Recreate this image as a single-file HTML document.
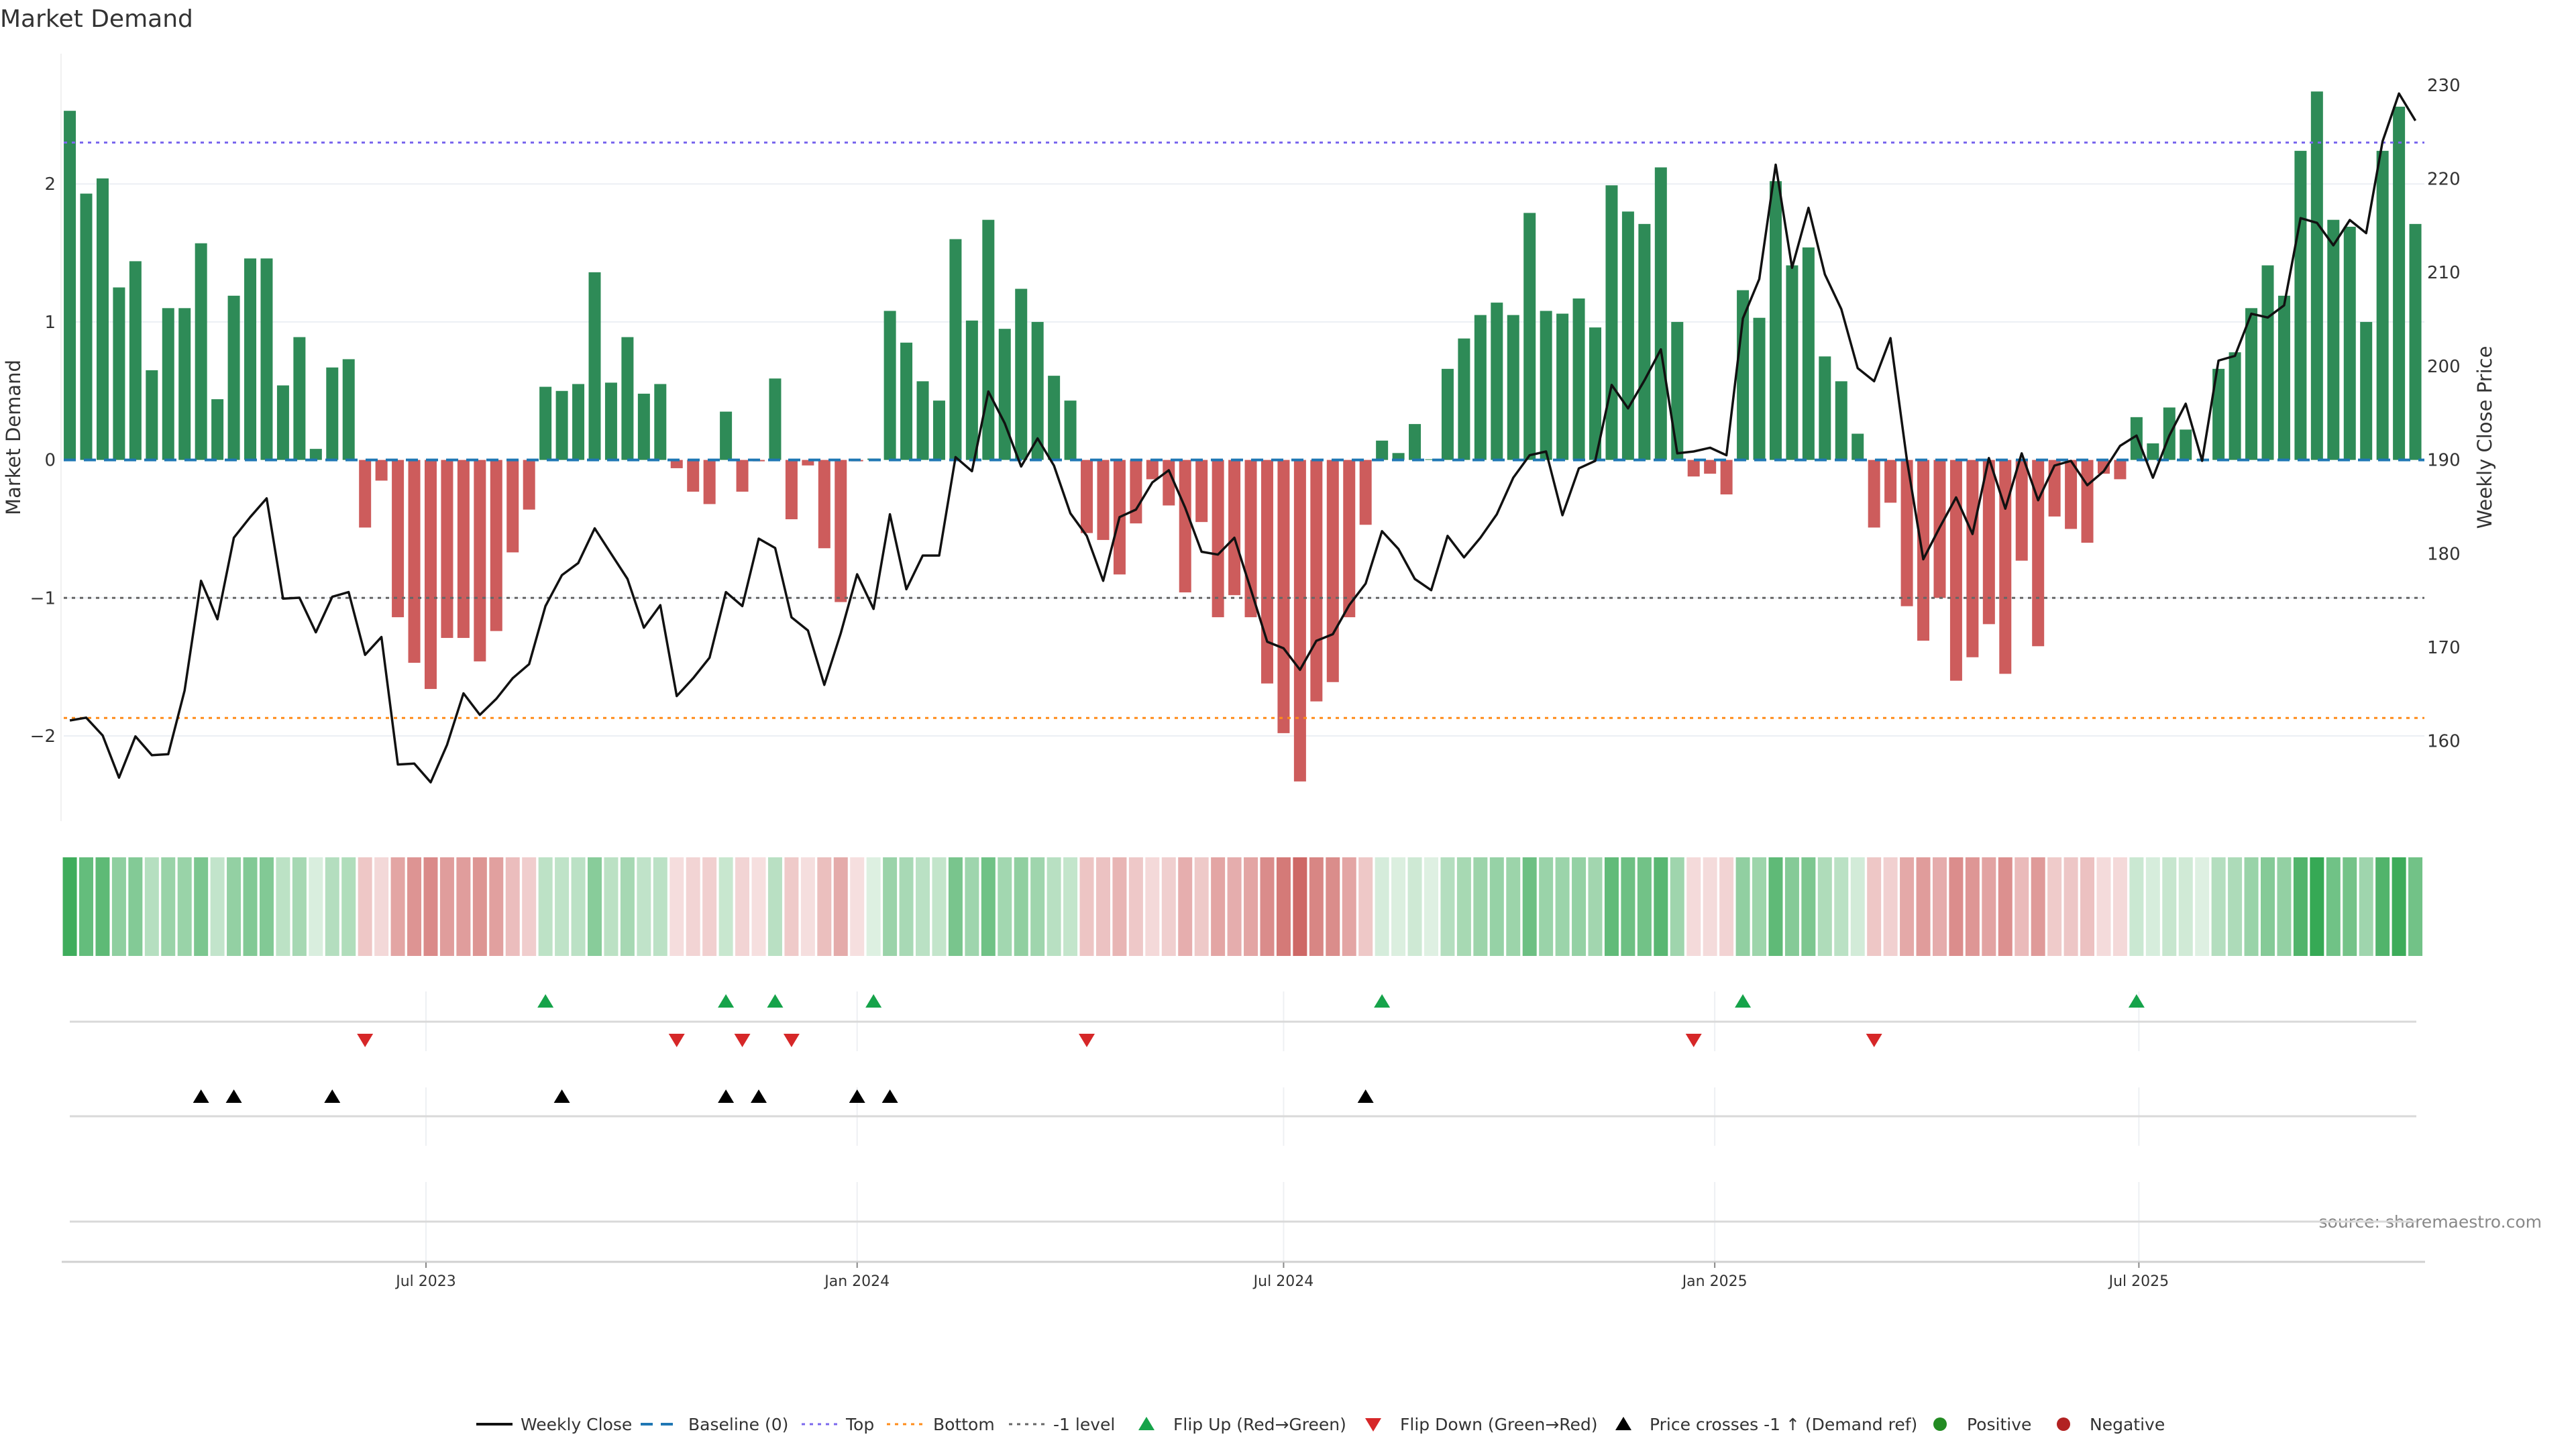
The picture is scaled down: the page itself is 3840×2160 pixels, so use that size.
<!DOCTYPE html>
<html><head><meta charset="utf-8"><title>Market Demand</title>
<style>
html,body{margin:0;padding:0;background:#fff;}
svg{display:block;font-family:"DejaVu Sans","Liberation Sans",sans-serif;}
</style></head>
<body>
<svg id="chart" width="3840" height="2160" viewBox="0 0 3840 2160" xmlns="http://www.w3.org/2000/svg">
<rect width="3840" height="2160" fill="#fff"/>
<text x="0" y="40" font-size="36" fill="#333">Market Demand</text>
<text transform="translate(30,652) rotate(-90)" text-anchor="middle" font-size="29" fill="#333">Market Demand</text>
<text transform="translate(3714,652) rotate(-90)" text-anchor="middle" font-size="29" fill="#333">Weekly Close Price</text>
<text x="3789" y="1830" text-anchor="end" font-size="25" fill="#888">source: sharemaestro.com</text>
<g id="grid"></g>
<g id="heat"></g>
<g id="bars"></g>
<g id="refs"></g>
<g id="line"></g>
<g id="axes"></g>
<g id="events"></g>
<g id="legend"></g>
</svg>
<script>
const startDate = "2023-01-30";
const demand = [2.53,1.93,2.04,1.25,1.44,0.65,1.10,1.10,1.57,0.44,1.19,1.46,1.46,0.54,0.89,0.08,0.67,0.73,-0.49,-0.15,
-1.14,-1.47,-1.66,-1.29,-1.29,-1.46,-1.24,-0.67,-0.36,0.53,0.50,0.55,1.36,0.56,0.89,0.48,0.55,-0.06,-0.23,-0.32,
0.35,-0.23,-0.01,0.59,-0.43,-0.04,-0.64,-1.03,-0.01,0.01,1.08,0.85,0.57,0.43,1.60,1.01,1.74,0.95,1.24,1.00,
0.61,0.43,-0.53,-0.58,-0.83,-0.46,-0.14,-0.33,-0.96,-0.45,-1.14,-0.98,-1.14,-1.62,-1.98,-2.33,-1.75,-1.61,-1.14,-0.47,
0.14,0.05,0.26,0.005,0.66,0.88,1.05,1.14,1.05,1.79,1.08,1.06,1.17,0.96,1.99,1.80,1.71,2.12,1.00,-0.12,
-0.10,-0.25,1.23,1.03,2.02,1.41,1.54,0.75,0.57,0.19,-0.49,-0.31,-1.06,-1.31,-1.00,-1.60,-1.43,-1.19,-1.55,-0.73,
-1.35,-0.41,-0.50,-0.60,-0.10,-0.14,0.31,0.12,0.38,0.22,0.005,0.66,0.78,1.10,1.41,1.19,2.24,2.67,1.74,1.69,
1.00,2.24,2.56,1.71];
const price = [162.2,162.5,160.6,156.1,160.5,158.5,158.6,165.4,177.1,173.0,181.7,183.9,185.9,175.2,175.3,171.6,175.4,175.9,169.2,171.1,
157.5,157.6,155.6,159.6,165.1,162.8,164.5,166.7,168.2,174.4,177.7,179.0,182.7,180.0,177.3,172.1,174.5,164.8,166.7,168.9,
175.9,174.4,181.6,180.6,173.2,171.8,166.0,171.5,177.8,174.1,184.2,176.2,179.8,179.8,190.3,188.8,197.3,193.9,189.3,192.3,
189.4,184.3,181.9,177.1,183.9,184.7,187.6,188.9,184.9,180.2,179.9,181.7,176.2,170.6,169.9,167.6,170.7,171.4,174.5,176.8,
182.4,180.5,177.3,176.1,181.9,179.6,181.7,184.2,188.1,190.5,190.9,184.1,189.1,189.9,198.0,195.5,198.5,201.8,190.7,190.9,
191.3,190.5,205.1,209.3,221.5,210.5,216.9,209.8,206.1,199.8,198.4,203.0,190.0,179.4,182.8,186.0,182.1,190.2,184.8,190.7,
185.7,189.4,189.9,187.3,188.8,191.5,192.6,188.1,192.6,196.0,189.9,200.6,201.1,205.6,205.2,206.5,215.8,215.3,212.9,215.6,
214.2,224.0,229.1,226.2];
const flipUp = [29,40,43,49,80,102,126];
const flipDown = [18,37,41,44,62,99,110];
const crosses = [8,10,16,30,40,42,48,50,79];
const demandTicks = [-2,-1,0,1,2];
const demandTickLabels = ["\u22122","\u22121","0","1","2"];
const priceTicks = [160,170,180,190,200,210,220,230];
const xTickDates = ["2023-07-01","2024-01-01","2024-07-01","2025-01-01","2025-07-01"];
const xTickLabels = ["Jul 2023","Jan 2024","Jul 2024","Jan 2025","Jul 2025"];
const topLevel = 2.30, bottomLevel = -1.87, minusOneLevel = -1;

const NS = "http://www.w3.org/2000/svg";
const DAY = 86400000;
const ref0 = Date.parse("2023-07-01T00:00:00Z");
function xDate(s){ return 635 + (Date.parse(s+"T00:00:00Z")-ref0)/DAY*3.493; }
const x0 = xDate(startDate);
function xi(i){ return x0 + i*7*3.493; }
function yD(v){ return 685.6 - v*205.7; }
function yP(p){ return 685.6 - (p-190)*13.97; }
function mk(tag, attrs, parent){ const e=document.createElementNS(NS,tag); for(const k in attrs) e.setAttribute(k,attrs[k]); parent.appendChild(e); return e; }
const X_L = 95, X_R = 3614;

// gridlines
const grid = document.getElementById('grid');
demandTicks.forEach(v=>{ if(v!==0){ const g=mk('line',{x1:X_L,x2:X_R,y1:yD(v),y2:yD(v),stroke:'#eceff4','stroke-width':2},grid);

 }});
const spine = mk('line',{x1:91,x2:91,y1:80,y2:1224,stroke:'#f0f0f0','stroke-width':2},grid);


xTickDates.forEach(d=>{ const x=xDate(d);
 [[1478,1523],[1523,1567],[1621,1708],[1762,1882]].forEach(r=>{ const g=mk('line',{x1:x,x2:x,y1:r[0],y2:r[1],stroke:'#eef0f3','stroke-width':2},grid);
 
  });
});
[1523,1664,1821].forEach(y=>{ const g=mk('line',{x1:104,x2:3602,y1:y,y2:y,stroke:'#d9d9d9','stroke-width':3},grid);

 });

// heatmap
const heat = document.getElementById('heat');
function lerp(a,b,t){ return Math.round(a+(b-a)*t); }
function heatColor(v){
 if(v>=0){ const t=Math.min(v/2.7,1); return `rgb(${lerp(222,52,t)},${lerp(240,168,t)},${lerp(226,83,t)})`; }
 const t=Math.min(-v/2.4,1); return `rgb(${lerp(246,205,t)},${lerp(224,100,t)},${lerp(224,98,t)})`;
}
demand.forEach((v,i)=>{ const r=mk('rect',{x:xi(i)-10.5,y:1278,width:21,height:147,fill:heatColor(v)},heat);
 
  });

// bars
const bars = document.getElementById('bars');
demand.forEach((v,i)=>{ const y1=yD(Math.max(v,0)), y2=yD(Math.min(v,0));
 const r=mk('rect',{x:xi(i)-9,y:y1,width:18,height:Math.max(y2-y1,0.5),fill:v>=0?'#2e8b57':'#cd5c5c'},bars);
 
  });

// reference lines
const refs = document.getElementById('refs');
const b0 = mk('line',{x1:X_L,x2:X_R,y1:yD(0),y2:yD(0),stroke:'#1f77b4','stroke-width':4,'stroke-dasharray':'18,12'},refs);


const tl = mk('line',{x1:X_L,x2:X_R,y1:yD(topLevel),y2:yD(topLevel),stroke:'#7b68ee','stroke-width':3,'stroke-dasharray':'5,7'},refs);


const bl = mk('line',{x1:X_L,x2:X_R,y1:yD(bottomLevel),y2:yD(bottomLevel),stroke:'#ff8c1a','stroke-width':3,'stroke-dasharray':'5,7'},refs);


const ml = mk('line',{x1:X_L,x2:X_R,y1:yD(minusOneLevel),y2:yD(minusOneLevel),stroke:'#666','stroke-width':3,'stroke-dasharray':'5,7'},refs);



// price line
const lineG = document.getElementById('line');
const pl = mk('polyline',{points:price.map((p,i)=>xi(i).toFixed(1)+','+yP(p).toFixed(1)).join(' '),fill:'none',stroke:'#111','stroke-width':3.5,'stroke-linejoin':'round'},lineG);



// axes
const axes = document.getElementById('axes');
demandTicks.forEach((v,k)=>{ const t=mk('text',{x:83,y:yD(v)+9,'text-anchor':'end','font-size':26,fill:'#333'},axes); t.textContent=demandTickLabels[k];
 
  });
priceTicks.forEach(p=>{ const t=mk('text',{x:3618,y:yP(p)+9,'font-size':26,fill:'#333'},axes); t.textContent=p;
 
  });
const xa = mk('line',{x1:92,x2:3615,y1:1881,y2:1881,stroke:'#d0d0d0','stroke-width':3},axes);


xTickDates.forEach((d,k)=>{ const x=xDate(d);
 const tk=mk('line',{x1:x,x2:x,y1:1882,y2:1890,stroke:'#888','stroke-width':2},axes);
 
 
 const t=mk('text',{x:x,y:1917,'text-anchor':'middle','font-size':22,fill:'#333'},axes); t.textContent=xTickLabels[k];
 
  });

// events
const ev = document.getElementById('events');
function tri(cx,cy,up,fill,parent){ const w=12,h=9;
 const pts = up ? `${cx-w},${cy+h} ${cx+w},${cy+h} ${cx},${cy-h-2}` : `${cx-w},${cy-h} ${cx+w},${cy-h} ${cx},${cy+h+2}`;
 return mk('polygon',{points:pts,fill:fill},parent); }
flipUp.forEach(i=>{ const p=tri(xi(i),1493,true,'#16a34a',ev);
 
  });
flipDown.forEach(i=>{ const p=tri(xi(i),1550,false,'#d62728',ev);
 
  });
crosses.forEach(i=>{ const p=tri(xi(i),1635,true,'#000',ev);
 
  });

// legend
const lg = document.getElementById('legend');
const LY = 2123;
function ltext(x,s){ const t=mk('text',{x:x,y:LY+9,'font-size':25,fill:'#333'},lg); t.textContent=s;
 
  }
function lline(x1,x2,stroke,dash,w){ const l=mk('line',{x1:x1,x2:x2,y1:LY,y2:LY,stroke:stroke,'stroke-width':w,'stroke-dasharray':dash},lg);
 
  }
lline(710,764,'#111','none',4); ltext(776,'Weekly Close');
lline(955,1009,'#1f77b4','18,12',4); ltext(1026,'Baseline (0)');
lline(1195,1249,'#7b68ee','5,7',3); ltext(1261,'Top');
lline(1322,1376,'#ff8c1a','5,7',3); ltext(1391,'Bottom');
lline(1504,1558,'#666','5,7',3); ltext(1570,'-1 level');
let s;
s=tri(1709,LY,true,'#16a34a',lg);   ltext(1749,'Flip Up (Red\u2192Green)');
s=tri(2047,LY,false,'#d62728',lg);   ltext(2087,'Flip Down (Green\u2192Red)');
s=tri(2420,LY,true,'#000',lg);   ltext(2459,'Price crosses -1 \u2191 (Demand ref)');
s=mk('circle',{cx:2892,cy:LY,r:10,fill:'#228b22'},lg);   ltext(2932,'Positive');
s=mk('circle',{cx:3076,cy:LY,r:10,fill:'#b22222'},lg);   ltext(3115,'Negative');
</script>
</body></html>
